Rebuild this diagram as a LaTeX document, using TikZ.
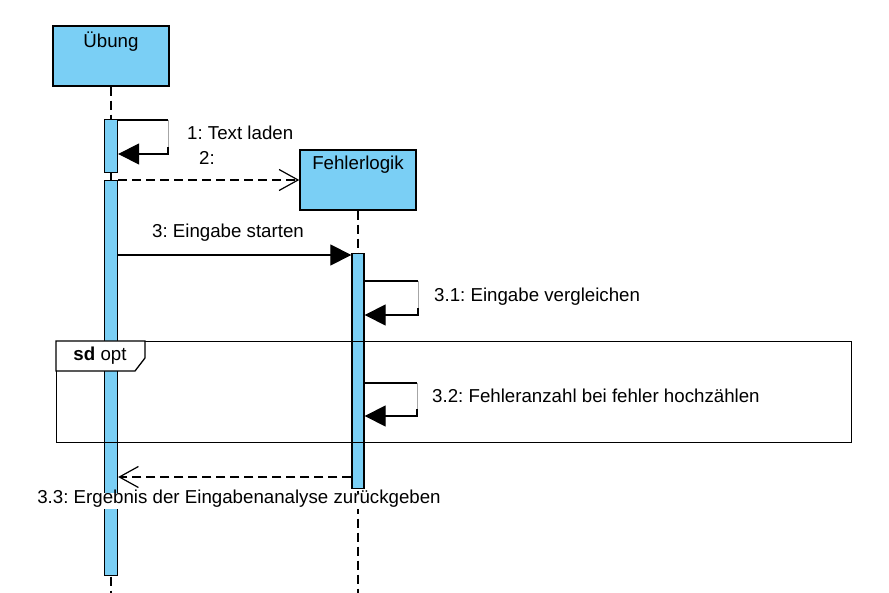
\documentclass[tikz,border=0pt]{standalone}
\usepackage{fontspec}
\setmainfont{Liberation Sans}
\usetikzlibrary{arrows.meta,calc}
\definecolor{actfill}{HTML}{7ACFF5}
\begin{document}
\frenchspacing
\begin{tikzpicture}[x=1pt,y=-1pt,
  font=\fontsize{18.7}{22}\selectfont,
  head/.style={draw,line width=1.4pt,fill=actfill,minimum width=116pt,minimum height=60pt,inner sep=0pt},
  bar/.style={draw,line width=1.3pt,fill=actfill,minimum width=13pt,inner sep=0pt,anchor=north},
  life/.style={line width=1.3pt,dash pattern=on 9pt off 5pt},
  msg/.style={line width=1.2pt},
  retmsg/.style={line width=1.2pt,dash pattern=on 9pt off 5pt,-{Straight Barb[length=19pt,width=21pt,line width=1.2pt]}},
  sync/.style={-{Triangle[length=21pt,width=21pt]}},
  lbl/.style={inner sep=0pt},
  frame/.style={draw,line width=1.3pt}
]
\useasboundingbox (0,0) rectangle (889,593);

% lifeline heads
\node[head] (ub) at (111,56) {};
\node[lbl] (ubt) at ($(ub.north)+(0,16)$) {Übung};
\node[head] (fl) at (358,180) {};
\node[lbl] (flt) at ($(fl.north)+(0,15)$) {Fehlerlogik};

% lifelines
\draw[life] (ub.south) -- (ub.south |- 0,593);
\draw[life] (fl.south) -- (fl.south |- 0,593);

% activations
\node[bar,minimum height=235pt,minimum width=12pt] (a3) at (358,253) {};
\node[bar,minimum height=53pt] (a1) at (111,119) {};
\node[bar,minimum height=395pt] (a2) at (111,180) {};

% message 1 (self)
\draw[msg] (a1.east |- 0,120) -- (168,120);
\draw[line width=0.8pt,gray!70] (168,120) -- (168,148);
\draw[msg,sync] (168,147) -- (168,154) -- (a1.east |- 0,154);
\node[lbl,anchor=west] (l1) at (187,133) {1: Text laden};

% message 2 (create)
\draw[retmsg] (a2.east |- fl.west) -- (fl.west);
\node[lbl,anchor=west] (l2) at (199,158) {2:};

% message 3
\draw[msg,sync] (a2.east |- 0,255) -- (a3.west |- 0,255);
\node[lbl] (l3) at (228,233) {3: Eingabe starten};

% message 3.1 (self)
\draw[msg] (a3.east |- 0,281) -- (418,281);
\draw[line width=0.8pt,gray!70] (418,281) -- (418,309);
\draw[msg,sync] (418,308) -- (418,315) -- (a3.east |- 0,315);
\node[lbl,anchor=west] (l31) at (434,297) {3.1: Eingabe vergleichen};

% combined fragment
\node[frame,minimum width=795pt,minimum height=101pt,anchor=north west,inner sep=0pt] (frag) at (56,341) {};
\draw[line width=1.3pt,fill=white] (frag.north west) -- ++(89,0) -- ++(0,17) -- ++(-10,13) -- (frag.west |- 0,371) -- cycle;
\node[lbl] (fragt) at (100,356) {\textbf{sd} opt};

% message 3.2 (self)
\draw[msg] (a3.east |- 0,383) -- (417,383);
\draw[line width=0.8pt,gray!70] (417,383) -- (417,410);
\draw[msg,sync] (417,409) -- (417,416) -- (a3.east |- 0,416);
\node[lbl,anchor=west] (l32) at (432,396) {3.2: Fehleranzahl bei fehler hochzählen};

% message 3.3 (return)
\draw[retmsg] (a3.west |- 0,477) -- (a2.east |- 0,477);
\node[lbl,fill=white,inner sep=3pt,text depth=0.22em,text height=0.75em] (l33) at (239,501) {3.3: Ergebnis der Eingabenanalyse zurückgeben};
\end{tikzpicture}
\end{document}
